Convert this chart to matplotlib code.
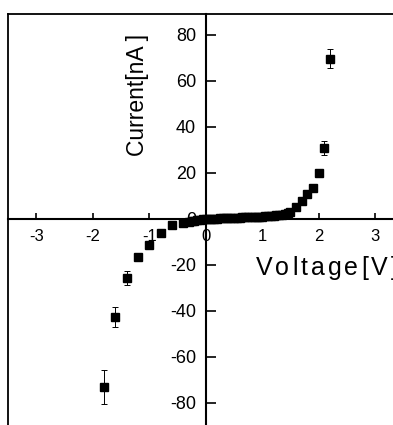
import numpy as np
import matplotlib
matplotlib.use("Agg")
import matplotlib.pyplot as plt
from matplotlib.transforms import IdentityTransform

plt.rcParams['font.family'] = ['Liberation Sans', 'DejaVu Sans']

# I-V data (voltage in V, current in nA)
v_neg = [-1.8, -1.6, -1.4, -1.2, -1.0, -0.8, -0.6, -0.4]
i_neg = [-73.0, -42.5, -25.5, -16.4, -11.3, -6.2, -2.6, -1.6]
err_neg = [7.4, 4.3, 3.0, 0, 0, 0, 0, 0]

v_dense = [-0.3, -0.25, -0.2, -0.15, -0.1, -0.05, 0.0, 0.05, 0.1, 0.15, 0.2, 0.25,
           0.3, 0.35, 0.4, 0.45, 0.5, 0.55, 0.6, 0.65, 0.7, 0.75, 0.8, 0.85, 0.9,
           0.95, 1.0, 1.05, 1.1, 1.15, 1.2, 1.25, 1.3, 1.35, 1.4, 1.45]
i_dense = [-1.2, -0.9, -0.7, -0.5, -0.3, -0.15, 0.0, 0.05, 0.1, 0.15, 0.2, 0.25,
           0.3, 0.35, 0.4, 0.45, 0.5, 0.55, 0.6, 0.65, 0.7, 0.75, 0.8, 0.85, 0.95,
           1.0, 1.05, 1.15, 1.25, 1.35, 1.45, 1.6, 1.75, 1.9, 2.1, 2.4]

v_pos = [1.5, 1.6, 1.7, 1.8, 1.9, 2.0, 2.1, 2.2]
i_pos = [3.0, 5.3, 7.8, 10.9, 13.6, 20.0, 30.7, 69.6]
err_pos = [0, 0, 0, 0, 0, 1.5, 3.1, 4.1]

xticks = [-3, -2, -1, 0, 1, 2, 3]
yticks = [-80, -60, -40, -20, 0, 20, 40, 60, 80]

W, H = 393, 425
fig = plt.figure(figsize=(W / 100, H / 100), dpi=100)
# axes box runs a bit past the right / bottom edge (cropped like the scan)
ax = fig.add_axes([8 / W, -1 / H, 395.5 / W, 412 / H])
ax.set_xlim(-3.5, 3.5)
ax.set_ylim(-90, 89.1)

ms = 5.5
ax.errorbar(v_neg, i_neg, yerr=err_neg, fmt='s', color='black', ms=ms,
            ecolor='black', elinewidth=0.7, capsize=2.5, capthick=0.7)
ax.plot(v_dense, i_dense, 's', color='black', ms=ms)
ax.errorbar(v_pos, i_pos, yerr=err_pos, fmt='s', color='black', ms=ms,
            ecolor='black', elinewidth=0.7, capsize=2.5, capthick=0.7)

# axes through the origin
ax.spines['left'].set_position(('data', 0))
ax.spines['bottom'].set_position(('data', 0))
ax.spines['right'].set_visible(False)
ax.spines['top'].set_visible(False)
for s in ['left', 'bottom']:
    ax.spines[s].set_linewidth(1.5)

# outer frame (left + top)
ax.plot([0, 0], [0, 1], transform=ax.transAxes, color='black', lw=1.3, clip_on=False)
ax.plot([0, 1], [1, 1], transform=ax.transAxes, color='black', lw=1.3, clip_on=False)

ax.set_xticks(xticks)
ax.set_yticks(yticks)
ax.set_xticklabels([str(t) for t in xticks])
ax.set_yticklabels([str(t) for t in yticks])
ax.tick_params(axis='x', direction='in', length=4, width=1.2, pad=7, labelsize=12)
ax.tick_params(axis='y', direction='in', length=7, width=1.2, pad=7, labelsize=13)

ax.text(-1.2, 54, 'Current[nA ]', rotation=90, ha='center', va='center', fontsize=16.5)

# letter-spaced x label (cut off at the right edge, as in the scan)
fig.canvas.draw()
r = fig.canvas.get_renderer()
x0, y0 = ax.transData.transform((0.885, -24.3))
for ch in 'Voltage[V]':
    t = fig.text(x0, y0, ch, transform=IdentityTransform(), fontsize=18, va='baseline')
    x0 += t.get_window_extent(r).width + 3

fig.savefig('out.png', dpi=100)
